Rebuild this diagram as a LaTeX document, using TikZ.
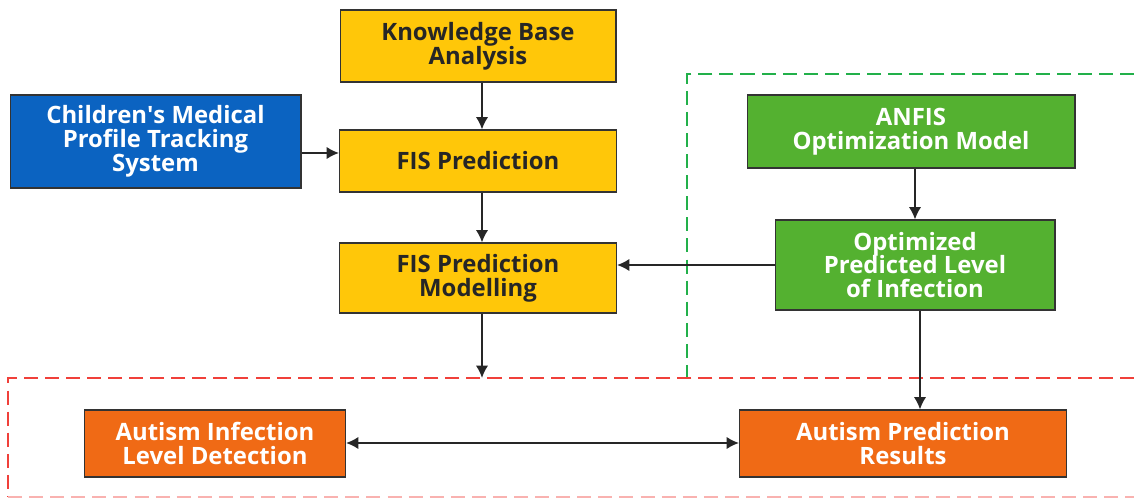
\documentclass[tikz,border=0pt]{standalone}
\usepackage{fontspec}
\setmainfont{Open Sans}
\usepackage{tikz}
\usetikzlibrary{arrows.meta}
\definecolor{kbyellow}{HTML}{FFC709}
\definecolor{cmblue}{HTML}{0B63C1}
\definecolor{anfisgreen}{HTML}{54B130}
\definecolor{resorange}{HTML}{F06A15}
\definecolor{dashgreen}{HTML}{22B04A}
\definecolor{dashred}{HTML}{F0403A}
\tikzset{blk/.style={draw=black!80, line width=0.6pt, align=center,
  font=\fontsize{13.6}{13.6}\selectfont\bfseries, inner sep=0pt},
  flow/.style={line width=1.1pt, black!85, -{Latex[length=7pt,width=7pt]}}}

\begin{document}
\begin{tikzpicture}[x=0.02cm, y=-0.02cm]

	\useasboundingbox (0,0) rectangle (1134,500);

	% dashed frames
	\draw[dashgreen, line width=1.4pt, dash pattern=on 8pt off 4pt] (1134,74) -- (687,74) -- (687,378);
	\draw[dashred, line width=1.4pt, dash pattern=on 8pt off 4pt] (1134,378) -- (8,378) -- (8,497);
	\draw[dashred!40, line width=1.4pt, dash pattern=on 8pt off 4pt] (8,497) -- (1134,497);

	% boxes
	\node[blk, fill=kbyellow, text=black!85, minimum width=5.52cm, minimum height=1.44cm] (kb) at (478,46) {Knowledge Base\\Analysis};
	\node[blk, fill=cmblue, text=white, minimum width=5.82cm, minimum height=1.86cm] (cmp) at (155.5,141.5) {Children\textquotesingle s Medical\\Profile Tracking\\System};
	\node[blk, fill=kbyellow, text=black!85, minimum width=5.54cm, minimum height=1.24cm] (fis) at (478,161) {FIS Prediction};
	\node[blk, fill=kbyellow, text=black!85, minimum width=5.54cm, minimum height=1.40cm] (fism) at (478,278) {FIS Prediction\\Modelling};
	\node[blk, fill=anfisgreen, text=white, minimum width=6.56cm, minimum height=1.46cm] (anfis) at (911,131.5) {ANFIS\\Optimization Model};
	\node[blk, fill=anfisgreen, text=white, minimum width=5.60cm, minimum height=1.80cm] (opt) at (915,265) {Optimized\\Predicted Level\\of Infection};
	\node[blk, fill=resorange, text=white, minimum width=5.22cm, minimum height=1.34cm] (ail) at (215,443.5) {Autism Infection\\Level Detection};
	\node[blk, fill=resorange, text=white, minimum width=6.54cm, minimum height=1.34cm] (apr) at (903,443.5) {Autism Prediction\\Results};

	\coordinate (redtop) at (482,378);

	% connectors
	\draw[flow] (kb.south -| 482,0) -- (fis.north -| 482,0);
	\draw[flow] (fis.south -| 482,0) -- (fism.north -| 482,0);
	\draw[flow] (fism.south -| redtop) -- (redtop);
	\draw[flow] (cmp.east |- 0,153) -- (fis.west |- 0,153);
	\draw[flow] (anfis.south -| opt) -- (opt.north);
	\draw[flow] (opt.west) -- (fism.east |- opt.west);
	\draw[flow] (opt.south -| 920,0) -- (apr.north -| 920,0);
	\draw[flow, {Latex[length=7pt,width=7pt]}-{Latex[length=7pt,width=7pt]}] (ail.east |- 0,443) -- (apr.west |- 0,443);
\end{tikzpicture}
\end{document}
